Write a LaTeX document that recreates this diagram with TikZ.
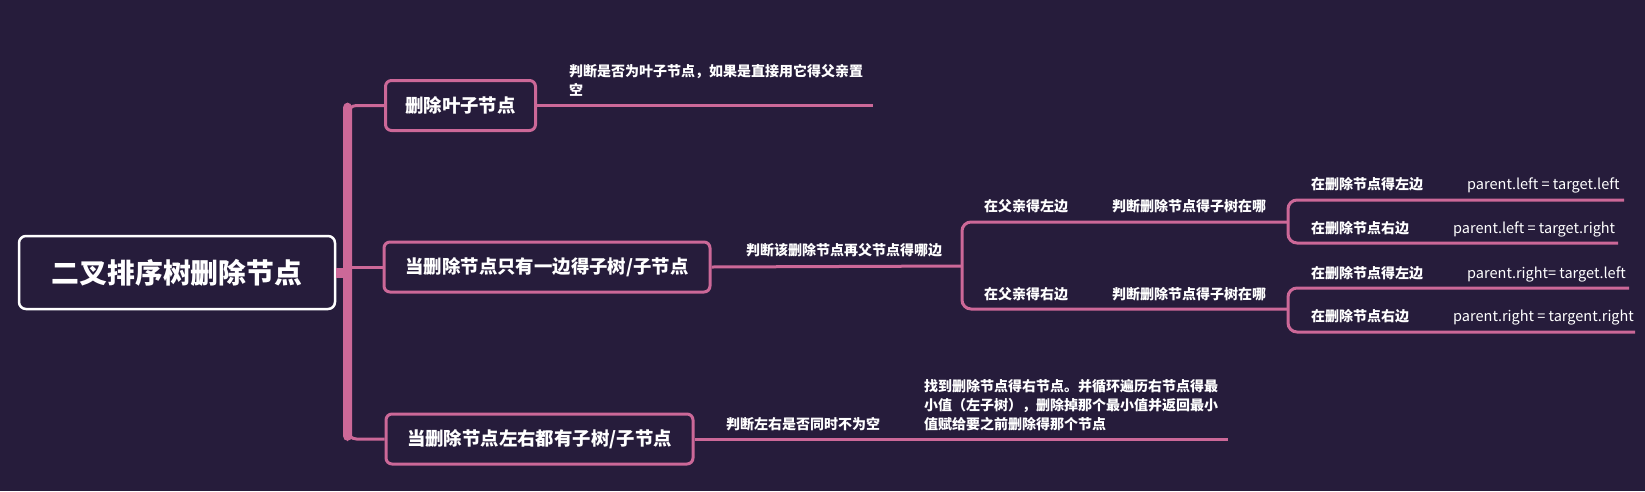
\documentclass[tikz,border=0pt]{standalone}
\usepackage{fontspec}
\setmainfont{Noto Sans CJK SC}
\definecolor{bg}{RGB}{38,28,59}
\definecolor{pk}{RGB}{204,104,152}
\begin{document}
\begin{tikzpicture}[x=1pt,y=-1pt,
  conn/.style={draw=pk, line width=3pt},
  box/.style={draw=pk, line width=3pt, rounded corners=6pt, fill=bg, text=white,
    font=\fontsize{18.4}{22}\selectfont\bfseries, inner sep=0pt, minimum height=50pt},
  lab/.style={text=white, font=\fontsize{14}{19}\selectfont\bfseries, inner sep=0pt, anchor=base west},
  para/.style={text=white, font=\fontsize{14}{19}\selectfont\bfseries, inner sep=0pt, anchor=north west, align=left},
  code/.style={text=white, font=\fontsize{14.5}{19}\selectfont, inner sep=0pt, anchor=base west}]
\fill[bg] (0,0) rectangle (1645,491);
\useasboundingbox (0,0) rectangle (1645,491);

% spine
\coordinate (sp) at (347.5,272);
\fill[pk, rounded corners=5pt] (343,102.5) rectangle (352,441);

% root
\node[draw=white, line width=2.5pt, rounded corners=7pt, fill=bg, text=white,
  font=\fontsize{27.8}{32}\selectfont\bfseries, minimum width=316pt, minimum height=73pt, inner sep=0pt]
  (root) at (177,272.5) {二叉排序树删除节点};
\draw[pk, line width=10pt] (root.east) -- (root.east -| sp);

% main branches
\node[box, minimum width=150pt] (b1) at (460.5,105.5) {删除叶子节点};
\node[box, minimum width=326pt] (b2) at (547,267) {当删除节点只有一边得子树/子节点};
\node[box, minimum width=307pt] (b3) at (539.5,439) {当删除节点左右都有子树/子节点};

\draw[conn, rounded corners=9pt] (b1.west) -| (sp);
\draw[conn, rounded corners=9pt] (b3.west) -| (sp);
\draw[conn] (b2.west) -- (b2.west -| sp);

% branch 1
\coordinate (e1) at (873,105.5);
\draw[conn] (b1.east) -- (e1);
\node[para] (t1) at (569,64) {判断是否为叶子节点，如果是直接用它得父亲置\\空};

% branch 2
\coordinate (j2) at (962,266);
\coordinate (j3) at (1288,222);
\coordinate (j4) at (1288,309);
\draw[conn] (b2.east) -- (j2);
\draw[conn, rounded corners=9pt] (j3) -- (j3 -| j2) -- (j4 -| j2) -- (j4);
\node[lab] (t2) at (746,255.3) {判断该删除节点再父节点得哪边};

\node[lab] (l1) at (984,211.3) {在父亲得左边};
\node[lab] (l1b) at (1112,211.3) {判断删除节点得子树在哪};
\node[lab] (r1) at (984,299.3) {在父亲得右边};
\node[lab] (r1b) at (1112,299.3) {判断删除节点得子树在哪};

\coordinate (ell) at (1624,200);
\coordinate (elr) at (1618,243);
\coordinate (erl) at (1629,288);
\coordinate (err) at (1635,332);
\draw[conn, rounded corners=9pt] (ell) -- (ell -| j3) -- (elr -| j3) -- (elr);
\draw[conn, rounded corners=9pt] (erl) -- (erl -| j4) -- (err -| j4) -- (err);

\node[lab] (ll) at (1311,189.3) {在删除节点得左边};
\node[code] (llv) at (1467,189.3) {parent.left = target.left};
\node[lab] (lr) at (1311,233.3) {在删除节点右边};
\node[code] (lrv) at (1453,233.3) {parent.left = target.right};
\node[lab] (rl) at (1311,278.3) {在删除节点得左边};
\node[code] (rlv) at (1467,278.3) {parent.right= target.left};
\node[lab] (rr) at (1311,321.3) {在删除节点右边};
\node[code] (rrv) at (1453,321.3) {parent.right = targent.right};

% branch 3
\coordinate (e3) at (1228,439);
\draw[conn] (b3.east) -- (e3);
\node[lab] (t3) at (726,429.3) {判断左右是否同时不为空};
\node[para] (t4) at (924,379) {找到删除节点得右节点。并循环遍历右节点得最\\小值（左子树），删除掉那个最小值并返回最小\\值赋给要之前删除得那个节点};
\end{tikzpicture}
\end{document}
